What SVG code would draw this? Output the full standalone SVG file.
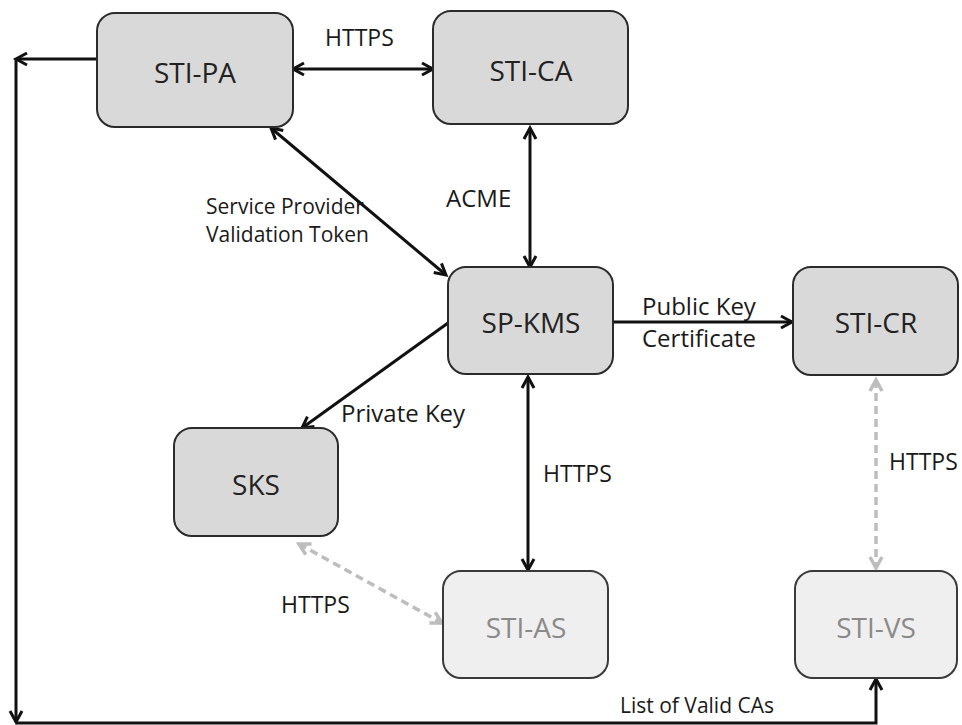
<svg xmlns="http://www.w3.org/2000/svg" width="962" height="725" viewBox="0 0 962 725">
<defs>
<style>
.node rect{fill:#d9d9d9;stroke:#2b2b2b;stroke-width:2}
.node.light rect{fill:#efefef;stroke:#3a3a3a}
.node text{font-family:"Open Sans",sans-serif;font-size:28px;fill:#222;text-anchor:middle}
.node.light text{fill:#8a8a8a}
.lbl{font-family:"Open Sans",sans-serif;fill:#1a1a1a}
.c{stroke:#111;stroke-width:3;fill:none}
.d{stroke:#bdbdbd;stroke-width:3.5;fill:none;stroke-dasharray:8 5}
</style>
<marker id="ah" markerUnits="userSpaceOnUse" markerWidth="16" markerHeight="16" refX="12" refY="7" orient="auto-start-reverse" viewBox="0 0 16 14">
<path d="M1,1 L12,7 L1,13" fill="none" stroke="#111" stroke-width="3"/>
</marker>
<marker id="ahg" markerUnits="userSpaceOnUse" markerWidth="16" markerHeight="16" refX="12" refY="7" orient="auto-start-reverse" viewBox="0 0 16 14">
<path d="M1,1 L12,7 L1,13" fill="none" stroke="#bdbdbd" stroke-width="3.5"/>
</marker>
</defs>
<rect width="962" height="725" fill="#fff"/>
<g id="connectors">
<path class="c" d="M293,69 H433" marker-start="url(#ah)" marker-end="url(#ah)"/>
<path class="c" d="M97,59 H16" marker-end="url(#ah)"/>
<path class="c" d="M16,58 V722" marker-end="url(#ah)"/>
<path class="c" d="M16,723 H876 V679" marker-end="url(#ah)"/>
<path class="c" d="M271,128 L446,275" marker-start="url(#ah)" marker-end="url(#ah)"/>
<path class="c" d="M530,128 V267" marker-start="url(#ah)" marker-end="url(#ah)"/>
<path class="c" d="M613,322 H792" marker-end="url(#ah)"/>
<path class="c" d="M448,323 L302,428" marker-end="url(#ah)"/>
<path class="c" d="M528,377 V570" marker-start="url(#ah)" marker-end="url(#ah)"/>
<path class="d" d="M876,380 V568" marker-start="url(#ahg)" marker-end="url(#ahg)"/>
<path class="d" d="M299,544 L442,623" marker-start="url(#ahg)" marker-end="url(#ahg)"/>
</g>
<g id="labels">
<text class="lbl" x="325" y="46" font-size="23">HTTPS</text>
<text class="lbl" x="446" y="207" font-size="24">ACME</text>
<text class="lbl" x="206" y="214" font-size="21">Service Provider</text>
<text class="lbl" x="206" y="242" font-size="21">Validation Token</text>
<text class="lbl" x="341" y="422" font-size="24">Private Key</text>
<text class="lbl" x="642" y="315" font-size="24">Public Key</text>
<text class="lbl" x="642" y="347" font-size="24">Certificate</text>
<text class="lbl" x="543" y="482" font-size="23">HTTPS</text>
<text class="lbl" x="889" y="470" font-size="23">HTTPS</text>
<text class="lbl" x="281" y="613" font-size="23">HTTPS</text>
<text class="lbl" x="620" y="713" font-size="21">List of Valid CAs</text>
</g>
<g id="sti-pa" class="node"><rect x="97" y="13" width="196" height="114" rx="18"/><text x="195" y="83">STI-PA</text></g>
<g id="sti-ca" class="node"><rect x="433" y="11" width="195" height="113" rx="18"/><text x="531" y="81">STI-CA</text></g>
<g id="sp-kms" class="node"><rect x="448" y="267" width="165" height="107" rx="18"/><text x="531" y="333">SP-KMS</text></g>
<g id="sti-cr" class="node"><rect x="793" y="267" width="165" height="108" rx="18"/><text x="876" y="333">STI-CR</text></g>
<g id="sks" class="node"><rect x="174" y="428" width="164" height="108" rx="18"/><text x="256" y="495">SKS</text></g>
<g id="sti-as" class="node light"><rect x="443" y="571" width="165" height="107" rx="18"/><text x="526" y="638">STI-AS</text></g>
<g id="sti-vs" class="node light"><rect x="795" y="571" width="162" height="107" rx="18"/><text x="876" y="638">STI-VS</text></g>
</svg>
